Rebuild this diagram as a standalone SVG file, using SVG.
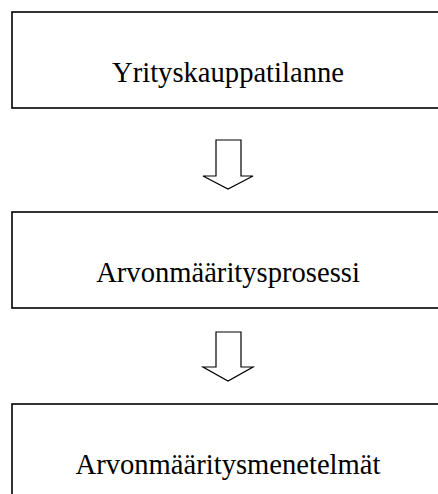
<svg xmlns="http://www.w3.org/2000/svg" width="438" height="494" viewBox="0 0 438 494">
<style>
.box{fill:#fff;stroke:#000;stroke-width:1.6}
.lbl{font-family:"Liberation Serif","Times New Roman",serif;font-size:28.6px;fill:#000;text-anchor:middle}
.arr{fill:#fff;stroke:#000;stroke-width:1.2;stroke-linejoin:miter}
</style>
<rect width="438" height="494" fill="#fff"/>
<g id="connectors">
<polygon class="arr" points="216,140 241,140 241,176 253,176 228,189 203,176 216,176"/>
<polygon class="arr" points="216,332 241,332 241,367 253,367 228,381 203,367 216,367"/>
</g>
<g id="node1">
<rect class="box" x="12" y="12" width="432" height="96"/>
<text class="lbl" x="228" y="82">Yrityskauppatilanne</text>
</g>
<g id="node2">
<rect class="box" x="12" y="212" width="432" height="96"/>
<text class="lbl" x="228" y="282">Arvonmääritysprosessi</text>
</g>
<g id="node3">
<rect class="box" x="12" y="404" width="432" height="96"/>
<text class="lbl" x="228" y="474">Arvonmääritysmenetelmät</text>
</g>
</svg>
